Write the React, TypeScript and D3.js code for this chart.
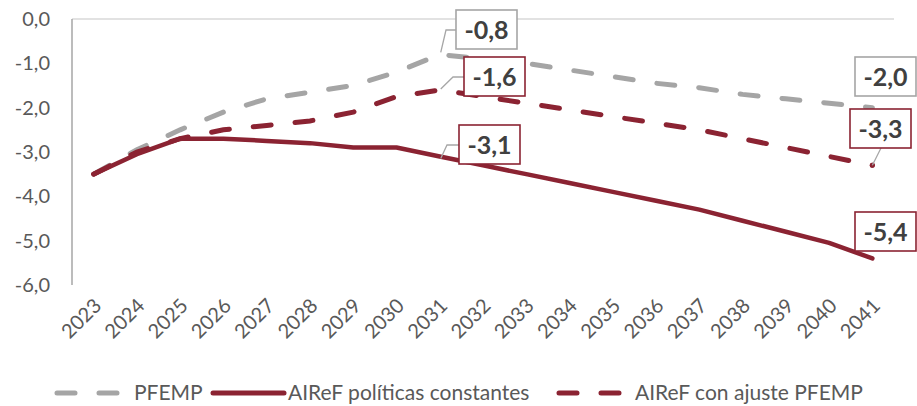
import React from "react";
import * as d3 from "d3";

const years = ["2023","2024","2025","2026","2027","2028","2029","2030","2031","2032","2033","2034","2035","2036","2037","2038","2039","2040","2041"];
const pfemp = [-3.5,-2.95,-2.5,-2.1,-1.8,-1.65,-1.5,-1.2,-0.8,-0.9,-1.0,-1.15,-1.3,-1.45,-1.55,-1.7,-1.8,-1.9,-2.0];
const constantes = [-3.5,-3.05,-2.7,-2.7,-2.75,-2.8,-2.9,-2.9,-3.1,-3.3,-3.5,-3.7,-3.9,-4.1,-4.3,-4.55,-4.8,-5.05,-5.4];
const ajuste = [-3.5,-3.0,-2.7,-2.5,-2.4,-2.3,-2.1,-1.75,-1.6,-1.75,-1.9,-2.05,-2.2,-2.35,-2.5,-2.7,-2.9,-3.1,-3.3];
const yTicks = [0,-1,-2,-3,-4,-5,-6];
const seriesNames = ["PFEMP","AIReF políticas constantes","AIReF con ajuste PFEMP"];

const GRAY = "#A5A5A5";
const RED = "#8B2332";
const TXT = "#595959";
const FONT = "Lato, 'DejaVu Sans', sans-serif";

const fmt = (v: number) => v.toFixed(1).replace(".", ",");

export default function App() {
  const W = 917, H = 406;
  const left = 72, right = 894, top = 19, bottom = 285;
  const x = d3.scalePoint<string>().domain(years).range([left, right]).padding(0.5);
  const y = d3.scaleLinear().domain([-6, 0]).range([bottom, top]);
  const line = (vals: number[]) =>
    d3.line<number>().x((_, i) => x(years[i]) as number).y((v) => y(v))(vals) as string;

  const dash = "18 24";
  const i31 = years.indexOf("2031");
  const iLast = years.length - 1;
  const x31 = x(years[i31]) as number;
  const xL = x(years[iLast]) as number;

  const boxes = [
    { v: pfemp[i31], bx: 456, by: 10, c: GRAY, lead: [[456, 30], [446, 30], [x31 + 1, y(pfemp[i31]) - 2]] },
    { v: ajuste[i31], bx: 464, by: 57, c: RED, lead: [[464, 77], [453, 77], [x31 + 1, y(ajuste[i31]) - 1]] },
    { v: constantes[i31], bx: 459, by: 125, c: RED, lead: [[459, 145], [447, 145], [x31 + 1, y(constantes[i31]) + 2]] },
    { v: pfemp[iLast], bx: 855, by: 57, c: GRAY, lead: null },
    { v: ajuste[iLast], bx: 850, by: 109, c: RED, lead: [[881, 148], [xL, y(ajuste[iLast])]] },
    { v: constantes[iLast], bx: 855, by: 212, c: RED, lead: null },
  ];

  return (
    <svg width={W} height={H} style={{ position: "absolute", left: 0, top: 0, background: "#fff" }} fontFamily={FONT}>
      <line x1={left} x2={right} y1={y(0)} y2={y(0)} stroke="#D9D9D9" strokeWidth={1.5} />
      <line x1={left} x2={left} y1={top} y2={bottom} stroke="#A6A6A6" strokeWidth={1.5} />
      {yTicks.map((t) => (
        <text key={t} x={50} y={y(t)} dy="0.35em" textAnchor="end" fontSize={20} fill={TXT}>
          {fmt(t)}
        </text>
      ))}
      {years.map((yr) => (
        <text key={yr} transform={`translate(${(x(yr) as number) + 9},${307}) rotate(-45)`} textAnchor="end" fontSize={20} fill={TXT}>
          {yr}
        </text>
      ))}
      <path d={line(pfemp)} fill="none" stroke={GRAY} strokeWidth={5} strokeDasharray={dash} strokeLinecap="round" />
      <path d={line(ajuste)} fill="none" stroke={RED} strokeWidth={5} strokeDasharray={dash} strokeLinecap="round" />
      <path d={line(constantes)} fill="none" stroke={RED} strokeWidth={4.5} strokeLinecap="round" strokeLinejoin="round" />
      <circle cx={xL} cy={y(ajuste[iLast])} r={2.5} fill={RED} />
      {boxes.map((b, k) => (
        <g key={k}>
          {b.lead && (
            <polyline points={b.lead.map((p) => p.join(",")).join(" ")} fill="none" stroke="#A6A6A6" strokeWidth={1.3} />
          )}
          <rect x={b.bx} y={b.by} width={61} height={39} fill="#fff" stroke={b.c} strokeWidth={1.6} />
          <text x={b.bx + 30.5} y={b.by + 19.5} dy="0.36em" textAnchor="middle" fontSize={25} fontWeight="bold" fill="#404040">
            {fmt(b.v)}
          </text>
        </g>
      ))}
      <g>
        <line x1={57} x2={120} y1={393} y2={393} stroke={GRAY} strokeWidth={5} strokeDasharray={dash} strokeLinecap="round" />
        <text x={134} y={393} dy="0.35em" fontSize={21} fill={TXT}>{seriesNames[0]}</text>
        <line x1={213} x2={284} y1={393} y2={393} stroke={RED} strokeWidth={5} strokeLinecap="round" />
        <text x={288} y={393} dy="0.35em" fontSize={21} fill={TXT}>{seriesNames[1]}</text>
        <line x1={559} x2={622} y1={393} y2={393} stroke={RED} strokeWidth={5} strokeDasharray={dash} strokeLinecap="round" />
        <text x={635} y={393} dy="0.35em" fontSize={21} fill={TXT}>{seriesNames[2]}</text>
      </g>
    </svg>
  );
}
